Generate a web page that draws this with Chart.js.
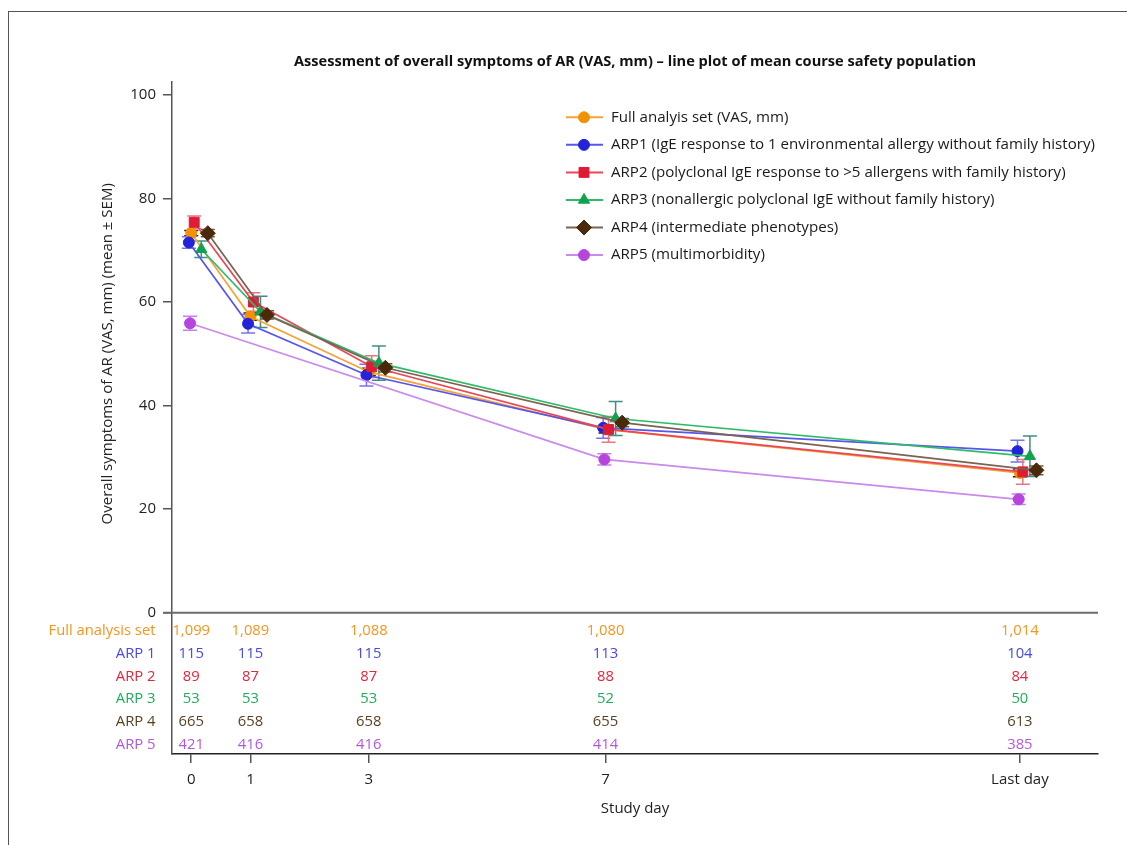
<!DOCTYPE html>
<html>
<head>
<meta charset="utf-8">
<script src="https://cdn.jsdelivr.net/npm/chart.js@4.4.1/dist/chart.umd.min.js"></script>
<style>
  html, body { margin: 0; padding: 0; background: #fff; }
  #wrap { position: relative; width: 1127px; height: 845px; overflow: hidden; }
  #frame { position: absolute; left: 8px; top: 11px; width: 1200px; height: 900px;
           border-left: 1.5px solid #555; border-top: 1.5px solid #555; }
  #c { position: absolute; left: 0; top: 0; }
</style>
</head>
<body>
<div id="wrap">
  <div id="frame"></div>
  <canvas id="c" width="1127" height="845"></canvas>
</div>
<script>
// Study visits (day 14 stands for the last study day)
const studyDays = [0, 1, 3, 7, 14];
const dayLabels = ['0', '1', '3', '7', 'Last day'];
const yTickValues = [0, 20, 40, 60, 80, 100];

// Mean overall VAS (mm) per visit
const fasMean  = [73.3, 57.2, 46.5, 35.4, 27.0];
const arp1Mean = [71.5, 55.8, 45.9, 35.7, 31.2];
const arp2Mean = [75.4, 60.0, 47.5, 35.4, 27.2];
const arp3Mean = [70.2, 58.1, 48.2, 37.5, 30.2];
const arp4Mean = [73.3, 57.5, 47.3, 36.7, 27.5];
const arp5Mean = [55.9, null, null, 29.6, 21.9];

// Standard error of the mean per visit
const fasSem  = [0.5, 0.7, 0.7, 0.7, 0.75];
const arp1Sem = [1.1, 1.8, 2.1, 2.0, 2.1];
const arp2Sem = [1.2, 1.8, 2.1, 2.5, 2.4];
const arp3Sem = [1.6, 3.0, 3.3, 3.3, 3.9];
const arp4Sem = [0.7, 0.8, 0.8, 0.8, 0.85];
const arp5Sem = [1.35, null, null, 1.1, 1.0];

// Number of patients per visit
const fasN  = ['1,099', '1,089', '1,088', '1,080', '1,014'];
const arp1N = ['115', '115', '115', '113', '104'];
const arp2N = ['89', '87', '87', '88', '84'];
const arp3N = ['53', '53', '53', '52', '50'];
const arp4N = ['665', '658', '658', '655', '613'];
const arp5N = ['421', '416', '416', '414', '385'];

const FONT = "'Open Sans', 'Noto Sans', sans-serif";

// Series appearance (small horizontal dodge in days keeps markers apart)
const series = [
  { legend: 'Full analyis set (VAS, mm)', row: 'Full analysis set', mean: fasMean, sem: fasSem, n: fasN,
    marker: '#F39200', line: '#F5A336', err: '#222222', text: '#F7941D', style: 'circle', radius: 5.5, dodge: 0.0 },
  { legend: 'ARP1 (IgE response to 1 environmental allergy without family history)', row: 'ARP 1', mean: arp1Mean, sem: arp1Sem, n: arp1N,
    marker: '#2323D8', line: '#5656EC', err: '#7474EC', text: '#4747E6', style: 'circle', radius: 5.5, dodge: -0.04 },
  { legend: 'ARP2 (polyclonal IgE response to >5 allergens with family history)', row: 'ARP 2', mean: arp2Mean, sem: arp2Sem, n: arp2N,
    marker: '#DD1C36', line: '#E8475A', err: '#EC7484', text: '#E5243D', style: 'rect', radius: 7, dodge: 0.05 },
  { legend: 'ARP3 (nonallergic polyclonal IgE without family history)', row: 'ARP 3', mean: arp3Mean, sem: arp3Sem, n: arp3N,
    marker: '#11A24E', line: '#2FBA6A', err: '#3F8E82', text: '#1BAF58', style: 'triangle', radius: 6.5, dodge: 0.17 },
  { legend: 'ARP4 (intermediate phenotypes)', row: 'ARP 4', mean: arp4Mean, sem: arp4Sem, n: arp4N,
    marker: '#4A2A0B', line: '#7A6350', err: '#6A5848', text: '#5A3E20', style: 'rectRot', radius: 7.5, dodge: 0.28 },
  { legend: 'ARP5 (multimorbidity)', row: 'ARP 5', mean: arp5Mean, sem: arp5Sem, n: arp5N,
    marker: '#B744DC', line: '#C98AEA', err: '#C283E8', text: '#B457DF', style: 'circle', radius: 5.5, dodge: -0.02 }
];

const datasets = series.map((s, i) => ({
  label: s.legend,
  data: studyDays.map((d, k) => ({ x: d + s.dodge, y: s.mean[k] })),
  borderColor: s.line,
  backgroundColor: s.marker,
  pointBackgroundColor: s.marker,
  pointBorderColor: s.marker,
  pointBorderWidth: 1,
  pointStyle: s.style,
  pointRadius: s.radius,
  borderWidth: 1.7,
  tension: 0,
  spanGaps: true,
  order: series.length - i
}));

// Error bars, the zero reference line and all free-standing text
const decorations = {
  id: 'decorations',
  beforeDatasetsDraw(chart) {
    const { ctx, chartArea, scales: { x, y } } = chart;
    ctx.save();
    // horizontal reference line at 0
    const y0 = y.getPixelForValue(0);
    ctx.strokeStyle = '#6b6b6b';
    ctx.lineWidth = 2;
    ctx.beginPath();
    ctx.moveTo(chartArea.left - 9, y0);
    ctx.lineTo(chartArea.right, y0);
    ctx.stroke();
    // mean ± SEM bars
    series.forEach(s => {
      ctx.strokeStyle = s.err;
      ctx.lineWidth = 1.5;
      studyDays.forEach((d, k) => {
        const m = s.mean[k], e = s.sem[k];
        if (m == null || e == null) return;
        const px = x.getPixelForValue(d + s.dodge);
        const top = y.getPixelForValue(m + e);
        const bot = y.getPixelForValue(m - e);
        ctx.beginPath();
        ctx.moveTo(px, top); ctx.lineTo(px, bot);
        ctx.moveTo(px - 7, top); ctx.lineTo(px + 7, top);
        ctx.moveTo(px - 7, bot); ctx.lineTo(px + 7, bot);
        ctx.stroke();
      });
    });
    ctx.restore();
  },
  afterDraw(chart) {
    const { ctx, chartArea, scales: { x, y } } = chart;
    ctx.save();

    // chart title
    ctx.fillStyle = '#111';
    ctx.font = 'bold 14.6px ' + FONT;
    ctx.textAlign = 'center';
    ctx.textBaseline = 'middle';
    ctx.fillText('Assessment of overall symptoms of AR (VAS, mm) \u2013 line plot of mean course safety population',
      (chartArea.left + chartArea.right) / 2, 62);

    // y-axis title
    ctx.save();
    ctx.translate(108, (y.getPixelForValue(0) + y.getPixelForValue(100)) / 2);
    ctx.rotate(-Math.PI / 2);
    ctx.font = '15px ' + FONT;
    ctx.fillStyle = '#222';
    ctx.fillText('Overall symptoms of AR (VAS, mm) (mean \u00B1 SEM)', 0, 0);
    ctx.restore();

    // legend
    const lx0 = 566, lx1 = 603, lmx = 584, ltx = 611, ly0 = 117.3, lstep = 27.55;
    series.forEach((s, i) => {
      const ly = ly0 + i * lstep;
      ctx.strokeStyle = s.line;
      ctx.lineWidth = 2;
      ctx.beginPath();
      ctx.moveTo(lx0, ly); ctx.lineTo(lx1, ly);
      ctx.stroke();
      ctx.fillStyle = s.marker;
      ctx.strokeStyle = s.marker;
      ctx.lineWidth = 1;
      Chart.helpers.drawPoint(ctx, { pointStyle: s.style, radius: s.radius, rotation: 0, borderWidth: 1 }, lmx, ly);
      ctx.fillStyle = '#1a1a1a';
      ctx.font = '15.1px ' + FONT;
      ctx.textAlign = 'left';
      ctx.textBaseline = 'middle';
      ctx.fillText(s.legend, ltx, ly);
    });

    // patient counts beneath the plot
    const baseY = y.getPixelForValue(0);
    ctx.font = '14.8px ' + FONT;
    ctx.textBaseline = 'middle';
    series.forEach((s, r) => {
      const ry = baseY + 18.5 + r * 22.65;
      ctx.fillStyle = s.text;
      ctx.textAlign = 'right';
      ctx.fillText(s.row, 155.5, ry);
      ctx.textAlign = 'center';
      studyDays.forEach((d, k) => ctx.fillText(s.n[k], x.getPixelForValue(d), ry));
    });
    ctx.restore();
  }
};

new Chart(document.getElementById('c'), {
  type: 'line',
  data: { datasets },
  plugins: [decorations],
  options: {
    responsive: false,
    animation: false,
    devicePixelRatio: 1,
    layout: { padding: { left: 90, top: 82, right: 29, bottom: 0 } },
    plugins: { legend: { display: false }, title: { display: false }, tooltip: { enabled: false } },
    scales: {
      x: {
        type: 'linear',
        min: -0.325,
        max: 15.32,
        afterBuildTicks: s => { s.ticks = studyDays.map(v => ({ value: v })); },
        afterFit: s => { s.height = 91; },
        ticks: {
          autoSkip: false, maxRotation: 0, padding: 8,
          color: '#222', font: { family: FONT, size: 15 },
          callback: (v, i) => dayLabels[i]
        },
        grid: { drawOnChartArea: false, drawTicks: true, tickLength: 9, color: '#555', lineWidth: 1.5 },
        border: { display: true, color: '#222', width: 1.5 },
        title: { display: true, text: 'Study day', color: '#222', font: { family: FONT, size: 15 }, padding: { top: 0, bottom: 27 } }
      },
      y: {
        type: 'linear',
        min: -27.3,
        max: 102.5,
        afterBuildTicks: s => { s.ticks = yTickValues.map(v => ({ value: v })); },
        afterFit: s => { s.width = 82; },
        ticks: { color: '#222', font: { family: FONT, size: 15 }, padding: 7 },
        grid: { drawOnChartArea: false, drawTicks: true, tickLength: 9, color: '#555', lineWidth: 1.5 },
        border: { display: true, color: '#555', width: 1.5 }
      }
    }
  }
});
</script>
</body>
</html>
